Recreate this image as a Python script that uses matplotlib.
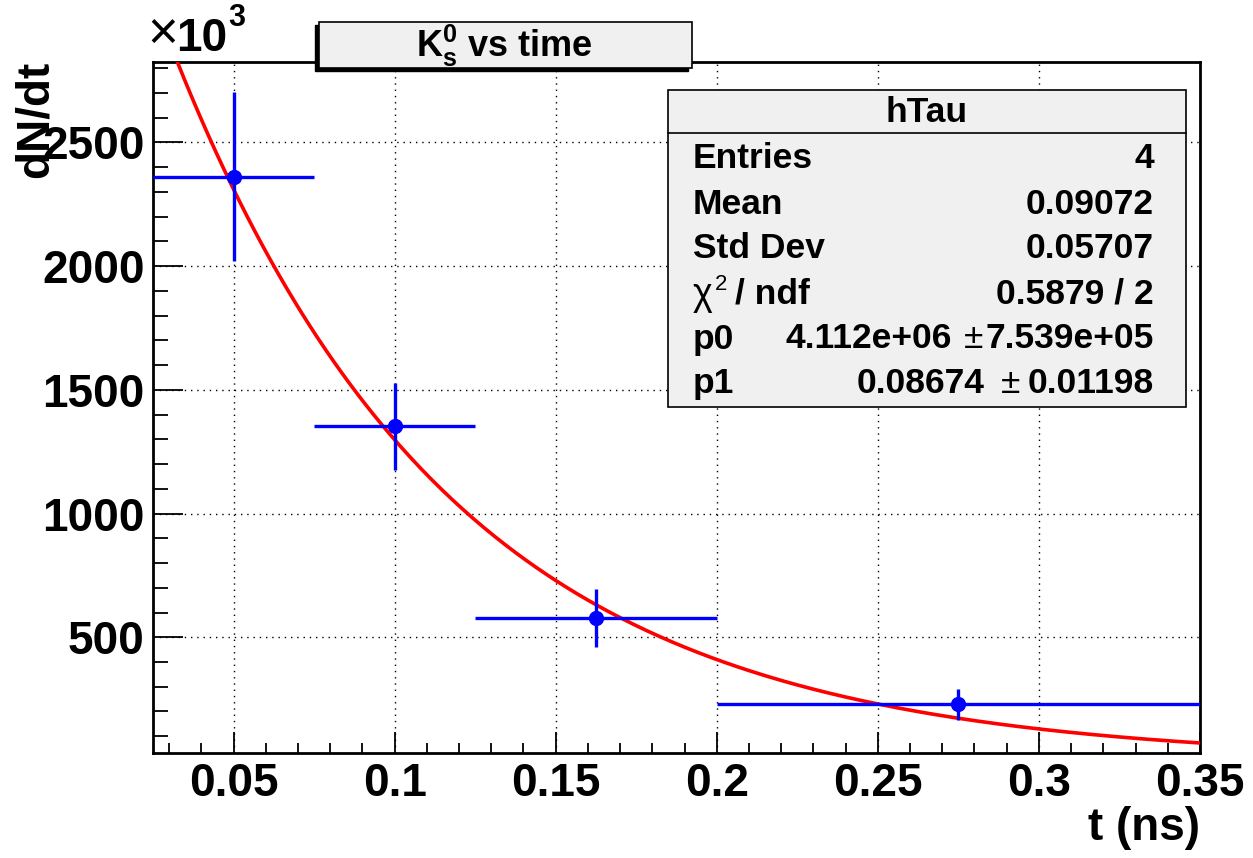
import numpy as np
import matplotlib
matplotlib.use("Agg")
import matplotlib.pyplot as plt
from matplotlib.patches import Rectangle
from matplotlib.lines import Line2D
from matplotlib.ticker import MultipleLocator

# ---------------- data ----------------
bin_edges = [0.025, 0.075, 0.125, 0.2, 0.35]          # t (ns)
dndt = [2362, 1352, 578, 229]                          # x10^3
dndt_err = [341, 175, 117, 63]                         # x10^3
fit_p0 = 4.112e6
fit_p1 = 0.08674
xticks = [0.05, 0.1, 0.15, 0.2, 0.25, 0.3, 0.35]
xtick_labels = ["0.05", "0.1", "0.15", "0.2", "0.25", "0.3", "0.35"]
yticks = [500, 1000, 1500, 2000, 2500]
ytick_labels = ["500", "1000", "1500", "2000", "2500"]
stat_names = ["Entries", "Mean", "Std Dev"]
stat_values = ["4", "0.09072", "0.05707"]
chi2_value = "0.5879 / 2"
par_names = ["p0", "p1"]
par_values = ["4.112e+06", "0.08674"]
par_errors = ["7.539e+05", "0.01198"]

W, H = 1253, 858
FONT = "Liberation Sans"
plt.rcParams['font.family'] = [FONT, 'DejaVu Sans']
plt.rcParams['mathtext.fontset'] = 'custom'
plt.rcParams['mathtext.rm'] = FONT + ':bold'
plt.rcParams['mathtext.it'] = FONT + ':bold'
plt.rcParams['mathtext.bf'] = FONT + ':bold'

def fx(px):
    return px / W

def fy(py):
    return 1 - py / H

fig = plt.figure(figsize=(W / 100, H / 100), dpi=100)
ax_l, ax_r, ax_t, ax_b = 153, 1200, 61.7, 753.3
ax = fig.add_axes([fx(ax_l), fy(ax_b), (ax_r - ax_l) / W, (ax_b - ax_t) / H])

edges = np.array(bin_edges)
centers = 0.5 * (edges[:-1] + edges[1:])
half = 0.5 * (edges[1:] - edges[:-1])

ax.set_xlim(0.025, 0.35)
ax.set_ylim(31, 2826)

# grid
for xt in xticks:
    ax.axvline(xt, color='black', lw=1.0, ls=(0, (1, 3.5)), zorder=1)
for yt in yticks:
    ax.axhline(yt, color='black', lw=1.0, ls=(0, (1, 3.5)), zorder=1)

# fit curve
tt = np.linspace(bin_edges[0], bin_edges[-1], 400)
ax.plot(tt, fit_p0 * np.exp(-tt / fit_p1) / 1e3, color='#ff0000', lw=2.6, zorder=3)

# data
ax.errorbar(centers, dndt, xerr=half, yerr=dndt_err, fmt='o', color='#0000ff',
            ms=10, lw=2.4, capsize=0, zorder=4)

# ticks
ax.xaxis.set_major_locator(plt.FixedLocator(xticks))
ax.xaxis.set_minor_locator(MultipleLocator(0.01))
ax.yaxis.set_major_locator(plt.FixedLocator(yticks))
ax.yaxis.set_minor_locator(MultipleLocator(100))
ax.set_xticklabels(xtick_labels)
ax.set_yticklabels(ytick_labels)
ax.tick_params(axis='x', which='major', direction='in', length=15, width=1.3,
               labelsize=33, pad=6)
ax.tick_params(axis='x', which='minor', direction='in', length=7, width=1.3)
ax.tick_params(axis='y', which='major', direction='in', length=21.6, width=1.3,
               labelsize=33, pad=6)
ax.tick_params(axis='y', which='minor', direction='in', length=10.8, width=1.3)
for lab in ax.get_xticklabels() + ax.get_yticklabels():
    lab.set_fontweight('bold')
for sp in ax.spines.values():
    sp.set_linewidth(2.0)

# axis titles
fig.text(fx(1200), fy(828), "t (ns)", ha='right', va='center', fontsize=33,
         fontweight='bold')
fig.text(fx(36), fy(61), "dN/dt", ha='center', va='top', rotation=90,
         fontsize=33, fontweight='bold')

fig.canvas.draw()
renderer = fig.canvas.get_renderer()

# x10^3
tx = fig.text(fx(147), fy(50), "\u00d7", ha='left', va='baseline', fontsize=38)
bbx = tx.get_window_extent(renderer)
t10 = fig.text((bbx.x1 - 2) / W, fy(51), "10", ha='left', va='baseline',
               fontsize=33, fontweight='bold')
bb10 = t10.get_window_extent(renderer)
fig.text((bb10.x1 + 1) / W, fy(26), "3", ha='left', va='baseline', fontsize=22,
         fontweight='bold')

# title box
tb_l, tb_r, tb_t, tb_b = 319, 692, 21.7, 68
fig.patches.append(Rectangle((fx(tb_l - 4), fy(tb_b + 3)), (tb_r - tb_l) / W,
                             (tb_b - tb_t) / H, transform=fig.transFigure,
                             facecolor='black', edgecolor='black', zorder=10))
fig.patches.append(Rectangle((fx(tb_l), fy(tb_b)), (tb_r - tb_l) / W,
                             (tb_b - tb_t) / H, transform=fig.transFigure,
                             facecolor='#f0f0f0', edgecolor='black', lw=1.2,
                             zorder=11))
fig.text(fx(504), fy(57), r"K$_{s}^{0}$ vs time", ha='center', va='baseline',
         fontsize=26, fontweight='bold', zorder=12)

# stats box
FS = 25.5
sb_l, sb_r, sb_t, sb_b = 668, 1186, 90, 407
fig.patches.append(Rectangle((fx(sb_l), fy(sb_b)), (sb_r - sb_l) / W,
                             (sb_b - sb_t) / H, transform=fig.transFigure,
                             facecolor='#f0f0f0', edgecolor='black', lw=1.2,
                             zorder=11))
fig.lines.append(Line2D([fx(sb_l), fx(sb_r)], [fy(133), fy(133)],
                        transform=fig.transFigure, color='black', lw=1.2,
                        zorder=12))
fig.text(fx(927), fy(112), "hTau", ha='center', va='center', fontsize=FS,
         fontweight='bold', zorder=13)

lab_x, val_x = 693, 1154
rows_y = [159, 204, 249, 294, 339, 384]
for i, (n, v) in enumerate(zip(stat_names, stat_values)):
    fig.text(fx(lab_x), fy(rows_y[i]), n, ha='left', va='center', fontsize=FS,
             fontweight='bold', zorder=13)
    fig.text(fx(val_x), fy(rows_y[i]), v, ha='right', va='center', fontsize=FS,
             fontweight='bold', zorder=13)

# chi2 row
yy = rows_y[3]
fig.text(fx(lab_x), fy(yy + 1), "\u03c7", ha='left', va='center', fontsize=27,
         zorder=13)
fig.text(fx(lab_x + 22), fy(yy - 10), "2", ha='left', va='center', fontsize=16,
         zorder=13)
fig.text(fx(lab_x + 42), fy(yy), "/ ndf", ha='left', va='center', fontsize=FS,
         fontweight='bold', zorder=13)
fig.text(fx(val_x), fy(yy), chi2_value, ha='right', va='center', fontsize=FS,
         fontweight='bold', zorder=13)

# parameter rows
gaps = [(2, 12), (8, 16)]
for i, (n, v, e) in enumerate(zip(par_names, par_values, par_errors)):
    yy = rows_y[4 + i]
    fig.text(fx(lab_x), fy(yy), n, ha='left', va='center', fontsize=FS,
             fontweight='bold', zorder=13)
    te = fig.text(fx(val_x), fy(yy), e, ha='right', va='center', fontsize=FS,
                  fontweight='bold', zorder=13)
    bb = te.get_window_extent(renderer)
    tpm = fig.text((bb.x0 - gaps[i][0]) / W, fy(yy), "\u00b1", ha='right',
                   va='center', fontsize=FS, zorder=13)
    bb2 = tpm.get_window_extent(renderer)
    fig.text((bb2.x0 - gaps[i][1]) / W, fy(yy), v, ha='right', va='center',
             fontsize=FS, fontweight='bold', zorder=13)

fig.savefig("out.png", dpi=100, facecolor='white')
